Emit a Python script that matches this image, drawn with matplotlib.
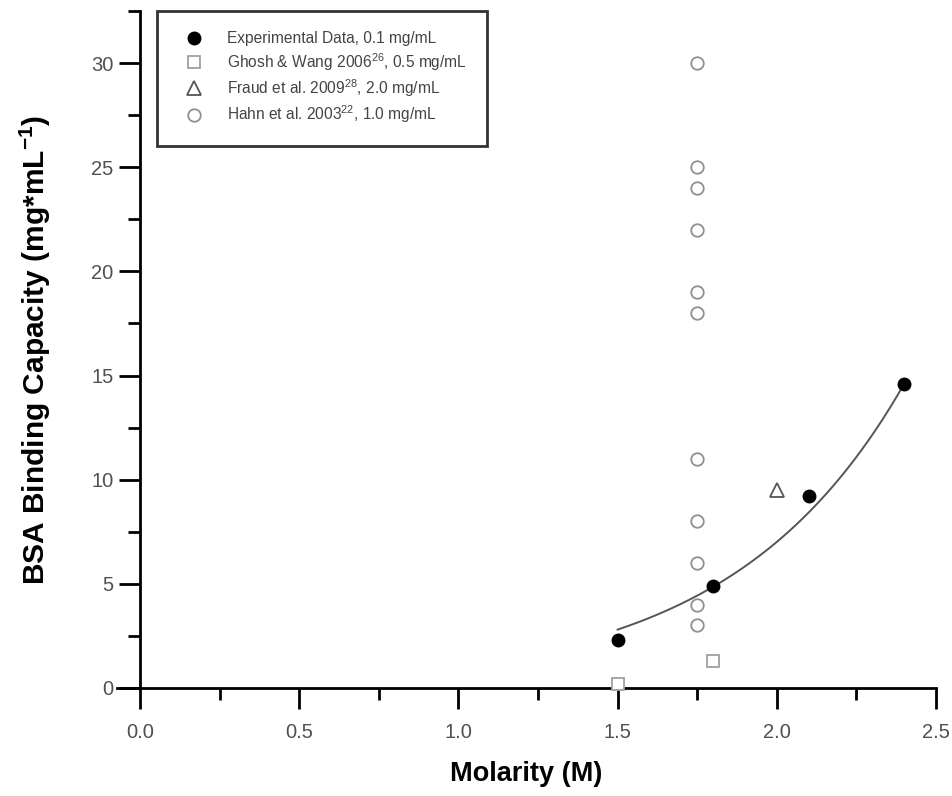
import numpy as np
import matplotlib
matplotlib.use("Agg")
import matplotlib.pyplot as plt
from matplotlib.ticker import MultipleLocator

plt.rcParams['font.family'] = ['Liberation Sans', 'DejaVu Sans']
plt.rcParams['mathtext.fontset'] = 'custom'
plt.rcParams['mathtext.rm'] = 'Liberation Sans'
plt.rcParams['mathtext.bf'] = 'Liberation Sans:bold'

# ---- data ----
exp_x = [1.5, 1.8, 2.1, 2.4]
exp_y = [2.3, 4.9, 9.2, 14.6]

ghosh_x = [1.5, 1.8]
ghosh_y = [0.2, 1.3]

fraud_x = [2.0]
fraud_y = [9.5]

hahn_x = [1.75] * 11
hahn_y = [30, 25, 24, 22, 19, 18, 11, 8, 6, 4, 3]

# exponential fit through the experimental points: y = a * exp(b * x)
fit_a = 0.179
fit_b = 1.834
fit_range = (1.5, 2.4)

labels = [
    'Experimental Data, 0.1 mg/mL',
    'Ghosh & Wang 2006$^{26}$, 0.5 mg/mL',
    'Fraud et al. 2009$^{28}$, 2.0 mg/mL',
    'Hahn et al. 2003$^{22}$, 1.0 mg/mL',
]

# ---- figure ----
fig = plt.figure(figsize=(9.53, 7.96), dpi=100)
ax = fig.add_axes([0.1228, 0.1357, 0.8594, 0.8505])

ax.plot(exp_x, exp_y, 'o', color='black', ms=9, label=labels[0], zorder=4)
ax.plot(ghosh_x, ghosh_y, 's', mfc='white', mec='#a0a0a0', mew=1.3, ms=8.5,
        label=labels[1], clip_on=False, zorder=4)
ax.plot(fraud_x, fraud_y, '^', mfc='white', mec='#555555', mew=1.3, ms=10,
        label=labels[2], zorder=4)
ax.plot(hahn_x, hahn_y, 'o', mfc='white', mec='#909090', mew=1.3, ms=9,
        label=labels[3], zorder=4)

xf = np.linspace(fit_range[0], fit_range[1], 200)
ax.plot(xf, fit_a * np.exp(fit_b * xf), color='#555555', lw=1.4, zorder=3)

ax.set_xlim(-0.072, 2.5)
ax.set_ylim(0, 32.5)

ax.spines['top'].set_visible(False)
ax.spines['right'].set_visible(False)
ax.spines['left'].set_position(('data', 0))
for s in ['left', 'bottom']:
    ax.spines[s].set_linewidth(2)

ax.xaxis.set_major_locator(MultipleLocator(0.5))
ax.xaxis.set_minor_locator(MultipleLocator(0.25))
ax.yaxis.set_major_locator(MultipleLocator(5))
ax.yaxis.set_minor_locator(MultipleLocator(2.5))
ax.set_xticks([0, 0.5, 1.0, 1.5, 2.0, 2.5])
ax.set_xticklabels(['0.0', '0.5', '1.0', '1.5', '2.0', '2.5'])

ax.tick_params(which='major', direction='out', length=15, width=2,
               labelsize=14.5, labelcolor='#505050')
ax.tick_params(which='minor', direction='out', length=8.5, width=2)
ax.tick_params(axis='x', which='major', pad=10)
ax.tick_params(axis='y', which='major', pad=4)

ax.set_xlabel('Molarity (M)', fontsize=19.5, fontweight='bold', labelpad=14)
ax.set_ylabel('BSA Binding Capacity (mg*mL$^{\\mathbf{-1}}$)', fontsize=21.5,
              fontweight='bold')
ax.yaxis.set_label_coords(-0.078, 0.5)

leg = ax.legend(loc='upper left', bbox_to_anchor=(0.049, 1.0), borderaxespad=0,
                fontsize=11.2, labelspacing=0.3, handlelength=2.2,
                handletextpad=1.0, borderpad=1.3, fancybox=False,
                frameon=True, numpoints=1)
leg.get_frame().set_edgecolor('black')
leg.get_frame().set_linewidth(2)
for t in leg.get_texts():
    t.set_color('#444444')

fig.savefig('out.png', dpi=100)
